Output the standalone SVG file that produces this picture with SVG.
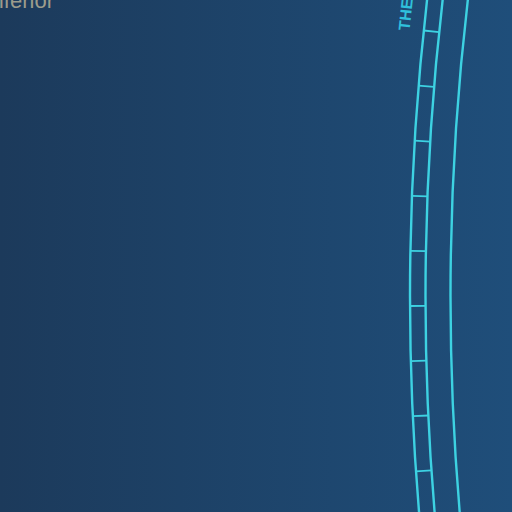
<svg xmlns="http://www.w3.org/2000/svg" width="512" height="512" viewBox="0 0 512 512">
  <defs>
    <linearGradient id="bg" x1="0" y1="0" x2="1" y2="0">
      <stop offset="0" stop-color="#1c3a5b"/>
      <stop offset="1" stop-color="#1f4e7a"/>
    </linearGradient>
    <style>
      .arc { fill: none; stroke: #3dd2e2; stroke-width: 2.4; }
      .tick { stroke: #3dd2e2; stroke-width: 1.8; }
      .lbl { font-family: "Liberation Sans", Arial, sans-serif; }
    </style>
  </defs>
  <rect x="0" y="0" width="512" height="512" fill="url(#bg)"/>
  <text class="lbl" x="-14.5" y="8" font-size="22" fill="#9c9c8c">Inferior</text>
  <g id="rings">
    <circle class="arc" cx="2987" cy="296" r="2577"/>
    <circle class="arc" cx="2987" cy="296" r="2561.5"/>
    <circle class="arc" cx="2987" cy="296" r="2536.5"/>
  </g>
  <g id="ticks">
    <line class="tick" x1="423.7" y1="30.5" x2="439.1" y2="32.1"/>
    <line class="tick" x1="418.6" y1="85.6" x2="434.0" y2="86.9"/>
    <line class="tick" x1="414.7" y1="140.7" x2="430.2" y2="141.6"/>
    <line class="tick" x1="412.0" y1="195.8" x2="427.4" y2="196.4"/>
    <line class="tick" x1="410.4" y1="250.9" x2="425.9" y2="251.2"/>
    <line class="tick" x1="410.0" y1="306.0" x2="425.5" y2="305.9"/>
    <line class="tick" x1="410.8" y1="361.1" x2="426.3" y2="360.7"/>
    <line class="tick" x1="412.8" y1="416.2" x2="428.3" y2="415.5"/>
    <line class="tick" x1="416.0" y1="471.3" x2="431.4" y2="470.3"/>
  </g>
  <text class="lbl" x="0" y="0" transform="translate(409.5,31) rotate(-84)" font-size="16" font-weight="bold" fill="#2fc0dc">THE</text>
</svg>
